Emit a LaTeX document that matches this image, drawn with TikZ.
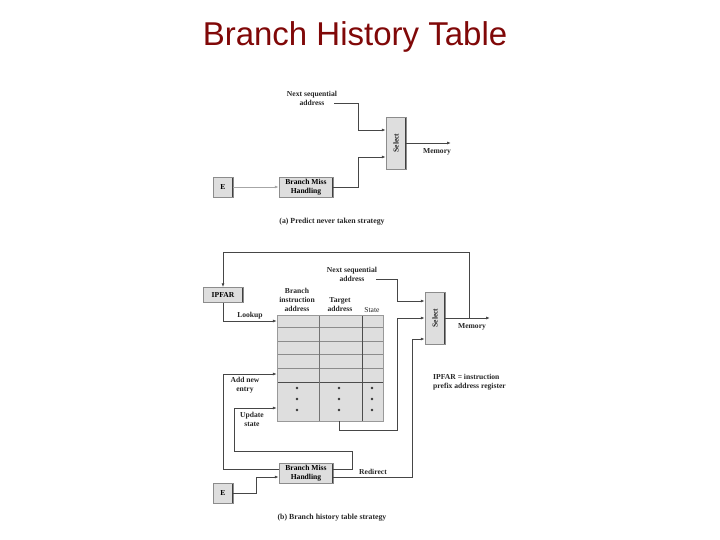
\documentclass[tikz,border=0pt]{standalone}
\usepackage{fontspec}
\setmainfont{Liberation Serif}
\newfontfamily\titlefont{Liberation Sans}
\usetikzlibrary{arrows.meta}
\definecolor{titlered}{RGB}{128,8,8}
\definecolor{boxfill}{RGB}{222,222,222}
\definecolor{lncol}{RGB}{70,70,70}
\tikzset{
  box/.style={draw=black!45, fill=boxfill, line width=0.5pt, inner sep=1pt, align=center,
    font=\fontsize{7.6}{8.6}\selectfont\bfseries,
    path picture={\draw[black!75, line width=1.4pt] (path picture bounding box.north east) -- (path picture bounding box.south east);}},
  lab/.style={font=\fontsize{7.6}{9}\selectfont\bfseries, align=center, inner sep=0pt, text=black!85},
  ln/.style={draw=lncol, line width=0.75pt},
  arr/.style={ln, -{Latex[length=4pt,width=3pt]}},
  faint/.style={draw=black!35}
}
\begin{document}
\begin{tikzpicture}[x=1pt,y=-1pt]
\useasboundingbox (0,0) rectangle (720,540);
\node[font=\titlefont\fontsize{33}{38}\selectfont, text=titlered] (title) at (355,37) {Branch History Table};

% ---------- (a) ----------
\node[lab] (nsaA) at (312,98) {Next sequential\\address};
\coordinate (nsaAend) at (334,103);
\node[box, minimum width=20pt, minimum height=52pt] (selA) at (396,143) {};
\node[lab, rotate=90] (selAt) at (selA.center) {Select};
\node[box, minimum width=54pt, minimum height=20pt] (bmhA) at (306,187) {Branch Miss\\Handling};
\node[box, minimum width=20pt, minimum height=20pt] (eA) at (223,187) {E};
\coordinate (memAend) at (451,143);
\node[lab] (memA) at (437,152) {Memory};
\node[lab, font=\fontsize{7.8}{9}\selectfont\bfseries] (capA) at (332,222) {(a) Predict never taken strategy};

\draw[arr] (nsaAend) -| (358,130) -- ([yshift=13pt]selA.west);
\draw[arr] (bmhA.east) -| (358,157) -- ([yshift=-14pt]selA.west);
\draw[arr] (selA.east) -- (memAend);
\draw[arr, faint] (eA.east) -- (bmhA.west);

% ---------- (b) ----------
\node[box, minimum width=40pt, minimum height=15pt] (ipfar) at (223,295) {IPFAR};
\node[box, minimum width=20pt, minimum height=52pt] (selB) at (435,318) {};
\node[lab, rotate=90] (selBt) at (selB.center) {Select};
\node[draw=none, fill=boxfill, minimum width=106pt, minimum height=106pt, inner sep=0pt] (tbl) at (330,368) {};
% table grid
\foreach \yy in {327,341,354,368} \draw[black!45, line width=0.5pt] (277,\yy) -- (383,\yy);
\draw[black!70, line width=0.9pt] (277,382) -- (383,382);
\draw[black!70, line width=0.9pt] (277,315) -- (383,315);
\draw[black!55, line width=0.6pt] (319,315) -- (319,421);
\draw[black!70, line width=0.7pt] (362,315) -- (362,421);
\draw[black!40, line width=0.5pt] (277,315) rectangle (383,421);
\foreach \xx in {297,339,372} \foreach \yy in {388,399,410} \fill[black!80] (\xx,\yy) circle (1.3pt);
% headers
\node[lab] (h1) at (297,300) {Branch\\instruction\\address};
\node[lab] (h2) at (340,305) {Target\\address};
\node[lab, font=\fontsize{7.6}{9}\selectfont] (h3) at (372,310) {State};

\node[lab] (nsaB) at (352,274) {Next sequential\\address};
\coordinate (nsaBend) at (376,279);
\node[box, minimum width=54pt, minimum height=20pt] (bmhB) at (306,473) {Branch Miss\\Handling};
\node[box, minimum width=20pt, minimum height=20pt] (eB) at (223,493) {E};
\coordinate (memBend) at (490,318);
\coordinate (fb) at (469,318);
\node[lab] (memB) at (472,327) {Memory};
\node[lab] (lookup) at (250,316) {Lookup};
\node[lab] (addnew) at (245,385) {Add new\\entry};
\node[lab] (upd) at (252,419) {Update\\state};
\node[lab] (redir) at (373,472) {Redirect};
\node[lab, anchor=west, align=left] (legend) at (433,382) {IPFAR = instruction\\prefix address register};
\node[lab, font=\fontsize{7.8}{9}\selectfont\bfseries] (capB) at (332,518) {(b) Branch history table strategy};

\draw[arr] (selB.east) -- (memBend);
\draw[arr] (fb) -- (469,252) -- (223,252) -- (ipfar.north);
\draw[arr] (ipfar.south) |- ([yshift=47pt]tbl.west);
\draw[arr] (nsaBend) -| (397,301) -- ([yshift=17pt]selB.west);
\draw[arr] ([xshift=9pt]tbl.south) |- (397,430) -- (397,318) -- (selB.west);
\draw[arr] ([yshift=-4pt]bmhB.east) -| (412,339) -- ([yshift=-21pt]selB.west);
\draw[arr] ([yshift=4pt]bmhB.west) -| (223,374) -- ([yshift=-6pt]tbl.west);
\draw[arr] ([yshift=4pt]bmhB.east) -| (352,451) -| (234,408) -- ([yshift=-40pt]tbl.west);
\draw[arr] (eB.east) -| (256,477) -- ([yshift=-4pt]bmhB.west);
\end{tikzpicture}
\end{document}
